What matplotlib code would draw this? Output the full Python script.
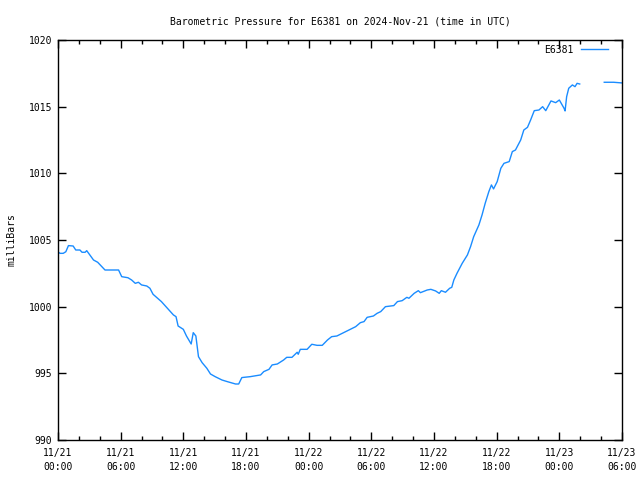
import numpy as np
import matplotlib.pyplot as plt

# hours since 2024-11-21 00:00 UTC, pressure in mbar (NaN = gap in data)
hours = [0.0, 0.2, 0.5, 0.75, 1.0, 1.45, 1.7, 2.1, 2.3, 2.6, 2.75, 3.05, 3.4, 3.8, 4.2, 4.5,
         5.8, 6.1, 6.7, 7.05, 7.4, 7.7, 8.0, 8.5, 8.8, 9.1, 9.9, 10.7, 11.05, 11.3, 11.5,
         12.0, 12.3, 12.75, 12.95, 13.2, 13.45, 13.8, 14.25, 14.6, 15.05, 15.7, 16.2,
         17.0, 17.3, 17.6, 17.8, 18.4, 19.4, 19.7, 20.2, 20.5, 21.0, 21.6, 21.9, 22.4,
         22.9, 23.0, 23.2, 23.85, 24.3, 24.8, 25.3, 25.8, 26.2, 26.7, 27.35, 28.0, 28.5,
         28.95, 29.3, 29.6, 30.2, 30.55, 30.9, 31.35, 32.15, 32.5, 32.95, 33.4, 33.6,
         34.1, 34.5, 34.7, 35.35, 35.7, 36.15, 36.5, 36.7, 37.1, 37.5, 37.7, 37.9, 38.2,
         38.7, 39.2, 39.5, 39.8, 40.3, 40.6, 40.9, 41.25, 41.5, 41.7, 42.05, 42.4, 42.7,
         43.2, 43.5, 43.8, 44.3, 44.6, 44.95, 45.25, 45.6, 46.05, 46.4, 46.7, 47.2, 47.65,
         48.0, 48.45, 48.55, 48.7, 48.9, 49.25, 49.5, 49.7, 49.95, 51.0, 52.3, 53.2, 54.0]
pressure = [1004.1, 1004.0, 1004.0, 1004.12, 1004.58, 1004.55, 1004.25, 1004.25, 1004.08, 1004.08,
            1004.2, 1003.88, 1003.5, 1003.33, 1003.0, 1002.75, 1002.75, 1002.25, 1002.17, 1002.0,
            1001.75, 1001.83, 1001.63, 1001.55, 1001.38, 1000.93, 1000.38, 999.68, 999.38, 999.25,
            998.55, 998.3, 997.8, 997.2, 998.05, 997.8, 996.25, 995.8, 995.38, 994.95, 994.75,
            994.5, 994.38, 994.2, 994.2, 994.68, 994.7, 994.75, 994.88, 995.13, 995.3, 995.63,
            995.7, 996.0, 996.2, 996.2, 996.58, 996.43, 996.8, 996.8, 997.18, 997.1, 997.1,
            997.5, 997.75, 997.8, 998.05, 998.3, 998.5, 998.8, 998.88, 999.2, 999.3, 999.5,
            999.63, 1000.0, 1000.08, 1000.38, 1000.45, 1000.7, 1000.63, 1001.0, 1001.2, 1001.05,
            1001.25, 1001.3, 1001.18, 1001.0, 1001.2, 1001.08, 1001.38, 1001.45, 1002.0, 1002.5,
            1003.25, 1003.88, 1004.5, 1005.25, 1006.13, 1006.88, 1007.75, 1008.63, 1009.13,
            1008.83, 1009.38, 1010.38, 1010.75, 1010.88, 1011.63, 1011.75, 1012.5, 1013.25,
            1013.45, 1014.0, 1014.7, 1014.75, 1015.0, 1014.7, 1015.43, 1015.3, 1015.5, 1014.88,
            1014.68, 1015.75, 1016.38, 1016.63, 1016.5, 1016.75, 1016.7, np.nan, 1016.83,
            1016.83, 1016.78]

tick_hours = [0, 6, 12, 18, 24, 30, 36, 42, 48, 54]
tick_labels = ['11/21\n00:00', '11/21\n06:00', '11/21\n12:00', '11/21\n18:00', '11/22\n00:00',
               '11/22\n06:00', '11/22\n12:00', '11/22\n18:00', '11/23\n00:00', '11/23\n06:00']
station = 'E6381'

plt.rcParams['font.family'] = ['DejaVu Sans Mono']
plt.rcParams['font.size'] = 7

fig = plt.figure(figsize=(6.4, 4.8), dpi=100)
ax = fig.add_axes([58 / 640, 40 / 480, 564 / 640, 400 / 480])

ax.plot(hours, pressure, color='#1a8cff', lw=1, label=station)

ax.set_xlim(0, 54)
ax.set_ylim(990, 1020)
ax.set_xticks(tick_hours)
ax.set_xticklabels(tick_labels, linespacing=1.4)
ax.set_xticks(np.arange(0, 55, 2), minor=True)
ax.set_yticks(np.arange(990, 1021, 5))
ax.tick_params(which='both', direction='in', top=True, right=True, width=1)
ax.tick_params(which='major', length=6)
ax.tick_params(which='minor', length=3)
ax.tick_params(axis='x', pad=6)
ax.tick_params(axis='y', pad=4)
for s in ax.spines.values():
    s.set_linewidth(1)

ax.set_ylabel('milliBars', labelpad=9)
ax.set_title('Barometric Pressure for %s on 2024-Nov-21 (time in UTC)' % station,
             fontsize=7, pad=11)
ax.legend(loc='upper right', bbox_to_anchor=(1 - 7 / 564, 1 + 2 / 400), frameon=False,
          markerfirst=False, handlelength=2.8, borderaxespad=0.3)

plt.savefig('out.png')
